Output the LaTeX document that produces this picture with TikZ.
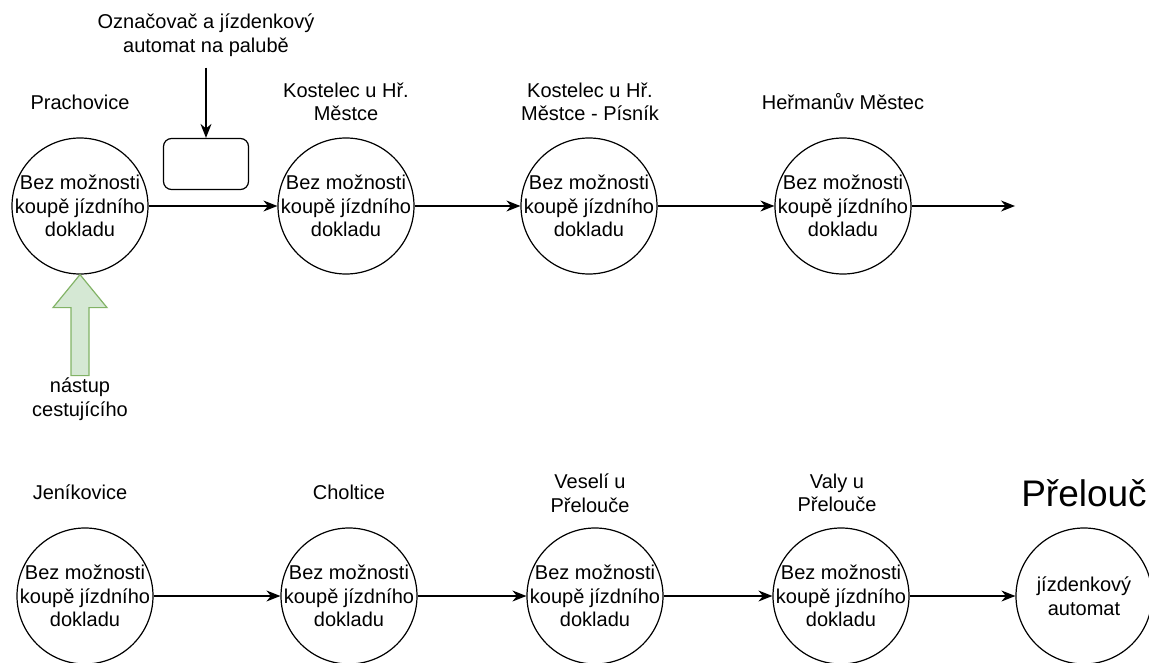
\documentclass[tikz,border=0pt]{standalone}
\usepackage{fontspec}
\setmainfont{Liberation Sans}
\usepackage{xcolor}
\usetikzlibrary{arrows.meta,positioning}
\definecolor{boardfill}{HTML}{D5E8D4}
\definecolor{boarddraw}{HTML}{82B366}

\begin{document}
\begin{tikzpicture}[x=1pt,y=-1pt,
		every node/.style={font=\fontsize{20}{23.5}\selectfont, align=center},
		station/.style={draw, circle, minimum size=136pt, inner sep=-6pt, line width=1.2pt},
		flow/.style={-{Stealth[length=14pt,width=11pt]}, line width=1.2pt}]
		\useasboundingbox (0,0) rectangle (1149,663);

		% first row
		\node[station] (prach) at (80,206) {Bez možnosti\\koupě jízdního\\dokladu};
		\node[station] (kost) at (346,206) {Bez možnosti\\koupě jízdního\\dokladu};
		\node[station] (pisnik) at (589,206) {Bez možnosti\\koupě jízdního\\dokladu};
		\node[station] (herm) at (843,206) {Bez možnosti\\koupě jízdního\\dokladu};
		\coordinate (hermend) at (1015,206);

		\node (prachname) at (80,102) {Prachovice};
		\node (kostname) at (346,102) {Kostelec u Hř.\\Městce};
		\node (pisnikname) at (590,102) {Kostelec u Hř.\\Městce - Písník};
		\node (hermname) at (843,102) {Heřmanův Městec};

		\draw[flow] (prach) -- (kost);
		\draw[flow] (kost) -- (pisnik);
		\draw[flow] (pisnik) -- (herm);
		\draw[flow] (herm) -- (hermend);

		% automat on board
		\node[draw, rounded corners=8pt, minimum width=85pt, minimum height=51pt, line width=1.2pt] (ticket) at (206,164) {};
		\node (onboard) at (206,35) {Označovač a jízdenkový\\automat na palubě};
		\draw[flow, shorten <=8pt] (onboard) -- (ticket);

		% boarding
		\draw[fill=boardfill, draw=boarddraw, line width=1.2pt] (prach.south) -- ++(27,33) -- ++(-18,0) -- ++(0,68) -- ++(-18,0) -- ++(0,-68) -- ++(-18,0) -- cycle;
		\node (boarding) at (80,399) {nástup\\cestujícího};

		% second row
		\node[station] (jenik) at (85,596) {Bez možnosti\\koupě jízdního\\dokladu};
		\node[station] (cholt) at (349,596) {Bez možnosti\\koupě jízdního\\dokladu};
		\node[station] (vesel) at (595,596) {Bez možnosti\\koupě jízdního\\dokladu};
		\node[station] (valy) at (841,596) {Bez možnosti\\koupě jízdního\\dokladu};
		\node[station] (prel) at (1084,596) {jízdenkový\\automat};

		\node (jenikname) at (80,492) {Jeníkovice};
		\node (choltname) at (349,492) {Choltice};
		\node (veselname) at (590,493) {Veselí u\\Přelouče};
		\node (valyname) at (837,493) {Valy u\\Přelouče};
		\node[font=\fontsize{37}{40}\selectfont] (prelname) at (1084,493) {Přelouč};

		\draw[flow] (jenik) -- (cholt);
		\draw[flow] (cholt) -- (vesel);
		\draw[flow] (vesel) -- (valy);
		\draw[flow] (valy) -- (prel);
	\end{tikzpicture}
\end{document}
